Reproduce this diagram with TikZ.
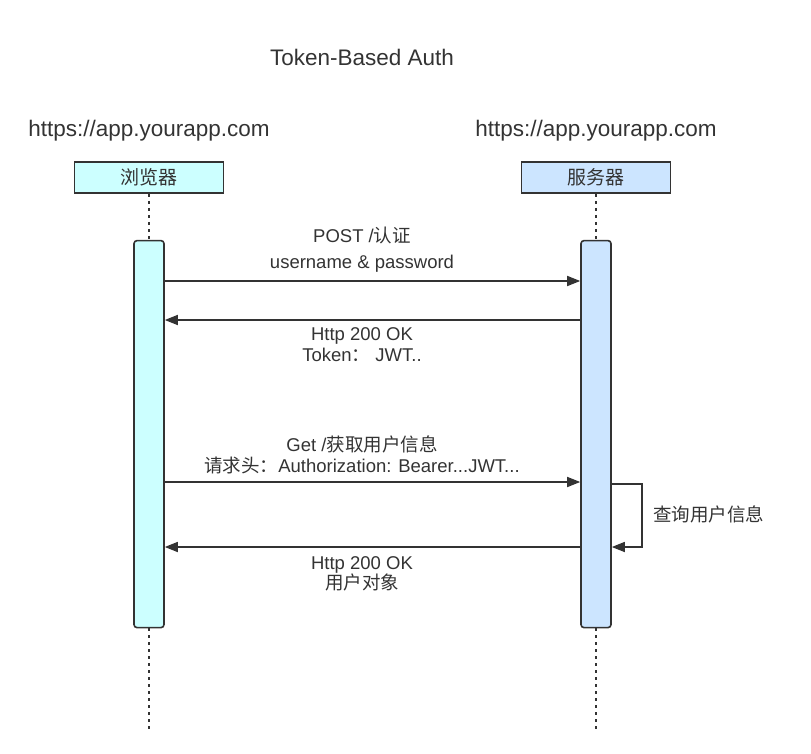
\documentclass[tikz,border=0pt]{standalone}
\usepackage{fontspec}
\setmainfont{Liberation Sans}
\newfontfamily\cjk{Noto Sans CJK SC}
\newcommand\zh[1]{{\cjk #1}}
\usetikzlibrary{arrows.meta,positioning}
\definecolor{ink}{HTML}{333333}
\definecolor{browserfill}{HTML}{CCFFFF}
\definecolor{serverfill}{HTML}{CCE5FF}

\begin{document}
\begin{tikzpicture}[x=1pt, y=-1pt,
every node/.style={inner sep=0pt, text=ink},
actor/.style={draw=ink, line width=1.6pt, minimum width=149pt, minimum height=31pt,
    font=\fontsize{19}{19}\selectfont},
bar/.style={draw=ink, line width=1.6pt, rounded corners=3pt, minimum width=30pt, minimum height=387pt},
life/.style={ink, line width=2pt, dash pattern=on 3pt off 4pt},
msg/.style={ink, line width=1.6pt, -{Triangle[length=13pt,width=10pt]}},
lbl/.style={anchor=base, font=\fontsize{18.5}{22}\selectfont},
url/.style={font=\fontsize{22.5}{24}\selectfont}
]
\useasboundingbox (0,0) rectangle (811,754);

\node[url, anchor=base] (title) at (362,66) {Token-Based Auth};

% actors and activations
\node[actor, fill=browserfill] (b) at (149,177.5) {\zh{浏览器}};
\node[actor, fill=serverfill] (s) at (596,177.5) {\zh{服务器}};
\node[url, above=20pt of b] (burl) {https://app.yourapp.com};
\node[url, above=20pt of s] (surl) {https://app.yourapp.com};
\node[bar, fill=browserfill, below=46pt of b] (bbar) {};
\node[bar, fill=serverfill, below=46pt of s] (sbar) {};

\foreach \n in {b,s}{
    \coordinate[below=102pt of \n bar] (\n end);
    \draw[life] (\n.south) -- (\n bar.north);
    \draw[life] (\n bar.south) -- (\n end);
}

% messages
\foreach \y/\from/\to in {281/bbar.east/sbar.west, 320/sbar.west/bbar.east,
                          482/bbar.east/sbar.west, 547/sbar.west/bbar.east}
    \draw[msg] (\from |- 0,\y) -- (\to |- 0,\y);
\draw[msg] (sbar.east |- 0,484) -- ++(30,0) |- (sbar.east |- 0,547);

\foreach \y/\t [count=\i] in {242/{POST /\zh{认证}}, 268/{username \& password},
                              340/{Http 200 OK}, 361/{Token\zh{：} JWT..},
                              451/{Get /\zh{获取用户信息}}, 472/{\zh{请求头：}Authorization: Bearer...JWT...},
                              569/{Http 200 OK}, 589/{\zh{用户对象}}}
    \node[lbl] (txt\i) at (362,\y) {\t};
\node[lbl, anchor=base west] (query) at (653,521) {\zh{查询用户信息}};
\end{tikzpicture}
\end{document}
